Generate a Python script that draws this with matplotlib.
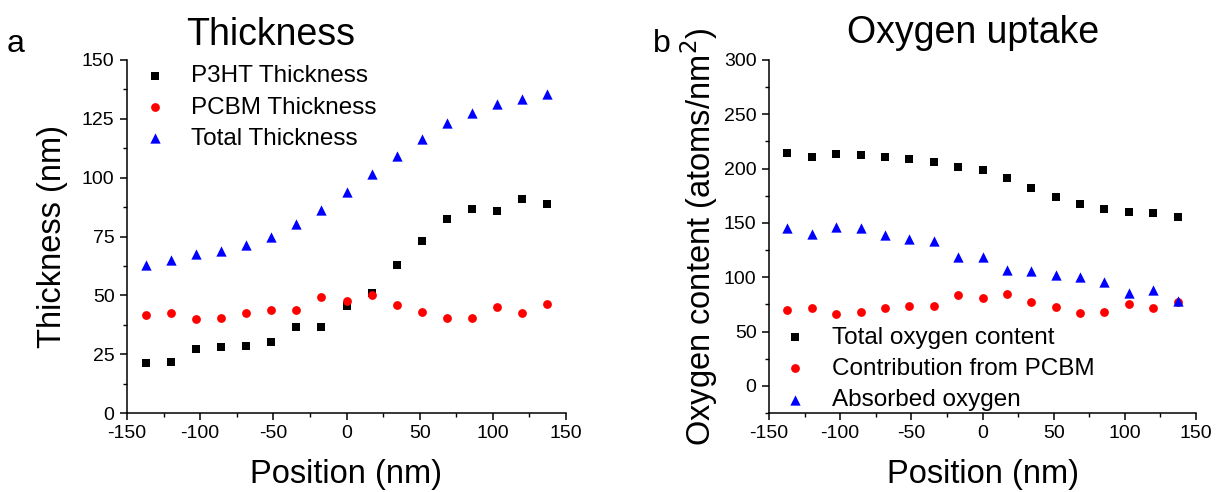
import matplotlib
matplotlib.use("Agg")
import matplotlib.pyplot as plt
from matplotlib.ticker import MultipleLocator

plt.rcParams['font.family'] = ['Liberation Sans', 'DejaVu Sans']
plt.rcParams['axes.unicode_minus'] = False

# ---- data ----
position = [-137.1, -120.0, -102.9, -85.7, -68.6, -51.4, -34.3, -17.1, 0.0,
            17.1, 34.3, 51.4, 68.6, 85.7, 102.9, 120.0, 137.1]

p3ht_thickness = [21.1, 21.8, 27.2, 28.2, 28.4, 30.3, 36.5, 36.5, 45.4,
                  51.1, 63.0, 73.2, 82.6, 86.7, 86.0, 90.8, 88.7]
pcbm_thickness = [41.6, 42.6, 39.8, 40.5, 42.7, 43.9, 43.6, 49.5, 47.8,
                  50.2, 46.0, 42.9, 40.2, 40.2, 45.0, 42.5, 46.3]
total_thickness = [63.0, 65.0, 67.4, 68.9, 71.6, 74.6, 80.4, 86.3, 93.7,
                   101.7, 109.4, 116.5, 123.3, 127.5, 131.5, 133.6, 135.4]

total_oxygen = [214.5, 210.8, 213.2, 212.9, 210.8, 208.6, 205.9, 201.3, 198.5,
                190.9, 182.3, 174.0, 167.6, 162.4, 159.9, 158.7, 155.6]
pcbm_oxygen = [69.7, 71.5, 66.6, 67.9, 71.9, 73.7, 73.1, 83.2, 80.5,
               84.5, 77.4, 72.2, 67.3, 67.6, 75.6, 71.3, 77.4]
absorbed_oxygen = [144.9, 140.0, 146.7, 145.5, 139.0, 135.1, 133.2, 118.5, 118.5,
                   106.8, 105.3, 101.9, 100.4, 95.5, 85.1, 88.2, 78.0]

labels_a = ["P3HT Thickness", "PCBM Thickness", "Total Thickness"]
labels_b = ["Total oxygen content", "Contribution from PCBM", "Absorbed oxygen"]

W, H = 1229, 492
fig = plt.figure(figsize=(W / 100, H / 100), dpi=100)

def axes_px(l, r, t, b):
    return fig.add_axes([l / W, 1 - b / H, (r - l) / W, (b - t) / H])

axa = axes_px(127, 566, 60, 413)
axb = axes_px(769, 1196, 60, 413)

def style(ax, ymaj, ymin_):
    for s in ['top', 'right']:
        ax.spines[s].set_visible(False)
    for s in ['left', 'bottom']:
        ax.spines[s].set_linewidth(1.1)
    ax.xaxis.set_major_locator(MultipleLocator(50))
    ax.xaxis.set_minor_locator(MultipleLocator(25))
    ax.yaxis.set_major_locator(MultipleLocator(ymaj))
    ax.yaxis.set_minor_locator(MultipleLocator(ymin_))
    ax.tick_params(which='major', direction='out', length=5, width=1.1,
                   labelsize=14, pad=4)
    ax.tick_params(which='minor', direction='out', length=3, width=1.0)
    ax.set_xlim(-150, 150)

kw_sq = dict(marker='s', color='black', s=34, linewidths=0)
kw_ci = dict(marker='o', color='red', s=40, linewidths=0)
kw_tr = dict(marker='^', color='blue', s=55, linewidths=0)

leg_kw = dict(loc='upper left', frameon=False, fontsize=17.5, handlelength=1.0,
              handletextpad=1.0, labelspacing=0.38, borderpad=0,
              borderaxespad=0, scatterpoints=1)

# ---- panel a ----
axa.scatter(position, p3ht_thickness, label=labels_a[0], **kw_sq)
axa.scatter(position, pcbm_thickness, label=labels_a[1], **kw_ci)
axa.scatter(position, total_thickness, label=labels_a[2], **kw_tr)
style(axa, 25, 12.5)
axa.set_ylim(0, 150)
axa.set_xlabel("Position (nm)", fontsize=23.5, labelpad=12)
axa.set_ylabel("Thickness (nm)", fontsize=23.5, labelpad=10)
axa.text(0.328, 1.042, "Thickness", transform=axa.transAxes, ha='center',
         va='baseline', fontsize=27)
axa.legend(bbox_to_anchor=(0.036, 0.985), **leg_kw)

# ---- panel b ----
axb.scatter(position, total_oxygen, label=labels_b[0], **kw_sq)
axb.scatter(position, pcbm_oxygen, label=labels_b[1], **kw_ci)
axb.scatter(position, absorbed_oxygen, label=labels_b[2], **kw_tr)
style(axb, 50, 25)
axb.set_ylim(-25, 300)
axb.set_xlabel("Position (nm)", fontsize=23.5, labelpad=12)
axb.set_ylabel("Oxygen content (atoms/nm$^2$)", fontsize=23.5, labelpad=3)
axb.text(0.478, 1.048, "Oxygen uptake", transform=axb.transAxes, ha='center',
         va='baseline', fontsize=27)
axb.legend(bbox_to_anchor=(0.033, 0.245), **leg_kw)

fig.text(16 / W, 1 - 52 / H, "a", ha='center', va='baseline', fontsize=23)
fig.text(662 / W, 1 - 52 / H, "b", ha='center', va='baseline', fontsize=23)

fig.savefig("out.png", dpi=100)
